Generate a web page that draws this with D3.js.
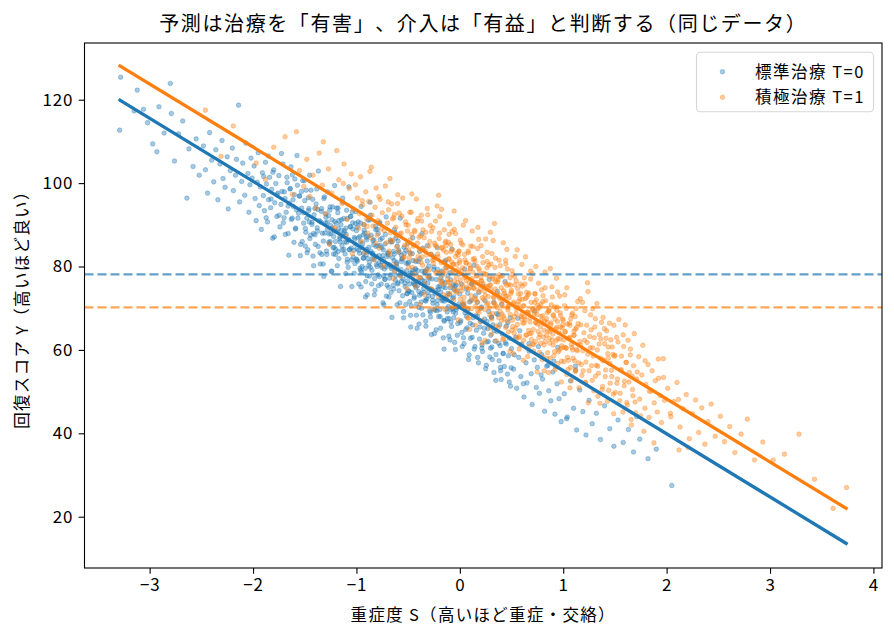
<!DOCTYPE html>
<html>
<head>
<meta charset="utf-8">
<script src="https://cdn.jsdelivr.net/npm/d3@7"></script>
<style>
  body { margin: 0; background: #fff; }
  svg { display: block; }
  text { font-family: "Noto Sans CJK JP", "Noto Sans", sans-serif; fill: #000; text-spacing-trim: space-all; }
</style>
</head>
<body>
<svg id="chart" width="894" height="637"></svg>
<script>
const titleText = "予測は治療を「有害」、介入は「有益」と判断する（同じデータ）";
const xLabel = "重症度 S（高いほど重症・交絡）";
const yLabel = "回復スコア Y（高いほど良い）";
const seriesNames = ["標準治療 T=0", "積極治療 T=1"];
const xTicks = [-3, -2, -1, 0, 1, 2, 3, 4];
const yTicks = [20, 40, 60, 80, 100, 120];

// fitted lines (S endpoints, Y endpoints) and group means
const fitS = [-3.3, 3.75];
const fitT0 = [120.1, 13.4];
const fitT1 = [128.3, 21.8];
const meanT0 = 78.1;
const meanT1 = 70.2;

// [S, Y]
const pointsT0 = [
[-3.28,125.4],[-3.29,112.7],[-3.12,122.3],[-3.06,117.7],[-3.15,117.3],[-2.91,118.3],[-2.80,123.9],[-2.79,116.7],[-2.97,109.4],[-2.64,96.4],
[-3.02,114.5],[-2.86,112.0],[-2.72,111.8],[-2.68,114.9],[-2.58,104.0],[-2.93,107.5],[-2.55,110.6],[-2.62,108.2],[-2.76,105.3],[-2.52,101.9],
[-2.48,108.9],[-2.46,103.2],[-2.44,97.6],[-2.42,112.1],[-2.40,105.5],[-2.38,100.3],[-2.36,108.0],[-2.34,96.0],[-2.32,104.6],[-2.30,110.2],
[-2.29,101.1],[-2.27,99.0],[-2.25,106.3],[-2.24,93.8],[-2.22,103.0],[-2.20,108.4],[-2.19,98.2],[-2.17,101.9],[-2.16,105.7],[-2.14,118.7],
[-2.13,95.5],[-2.11,100.4],[-2.10,104.8],[-2.08,97.1],[-2.07,109.6],[-2.05,102.3],[-2.04,93.0],[-2.03,99.6],[-2.02,106.0],[-2.01,101.2],
[-1.99,104.1],[-1.98,96.3],[-1.97,91.0],[-1.96,100.2],[-1.95,107.3],[-1.94,94.6],[-1.93,99.1],[-1.92,88.9],[-1.91,102.5],[-1.90,97.0],
[-1.89,93.4],[-1.88,105.0],[-1.87,99.8],[-1.86,90.7],[-1.85,96.0],[-1.84,101.4],[-1.83,94.1],[-1.82,98.5],[-1.81,86.8],[-1.80,103.2],
[-1.79,95.3],[-1.78,99.9],[-1.77,92.0],[-1.76,97.6],[-1.75,101.8],[-1.74,89.5],[-1.73,94.9],[-1.72,98.0],[-1.71,104.6],[-1.70,91.7],
[-1.69,96.3],[-1.68,93.0],[-1.67,100.1],[-1.66,87.9],[-1.65,95.2],[-1.64,98.7],[-1.63,91.3],[-1.62,102.0],[-1.61,94.4],[-1.60,97.2],
[-1.59,89.0],[-1.58,93.6],[-1.57,99.5],[-1.56,92.8],[-1.55,96.9],[-1.54,85.3],[-1.53,94.0],[-1.52,100.6],[-1.51,90.4],
[-1.50,95.8],[-1.49,88.2],[-1.48,91.6],[-1.47,84.0],[-1.46,93.9],[-1.45,86.7],[-1.44,98.3],[-1.43,90.1],[-1.42,82.5],[-1.41,92.4],
[-1.40,87.6],[-1.39,95.0],[-1.38,89.3],[-1.37,84.8],[-1.36,91.0],[-1.35,80.6],[-1.34,93.2],[-1.33,88.0],[-1.32,86.1],[-1.31,96.7],
[-1.30,90.5],[-1.29,83.7],[-1.28,88.9],[-1.27,92.2],[-1.26,85.4],[-1.25,89.8],[-1.24,78.9],[-1.23,94.3],[-1.22,87.2],[-1.21,90.8],
[-1.20,84.1],[-1.19,88.4],[-1.18,92.9],[-1.17,81.9],[-1.16,86.6],[-1.15,90.0],[-1.14,85.0],[-1.13,95.4],[-1.12,88.1],[-1.11,83.0],
[-1.10,87.7],[-1.09,91.5],[-1.08,79.8],[-1.07,86.3],[-1.06,89.6],[-1.05,84.4],[-1.04,93.1],[-1.03,82.2],[-1.02,87.0],[-1.01,90.3],
[-1.495,84.9],[-1.455,90.7],[-1.415,87.9],[-1.375,93.7],[-1.335,82.9],[-1.295,91.8],[-1.255,86.0],[-1.215,84.6],[-1.175,89.1],[-1.135,87.3],
[-1.095,85.8],[-1.055,92.0],[-1.015,80.7],[-1.465,96.5],[-1.315,77.6],
[-1.00,88.6],[-0.99,81.3],[-0.98,86.9],[-0.97,83.2],[-0.96,90.4],[-0.95,78.7],[-0.94,85.5],[-0.93,82.0],[-0.92,88.0],[-0.91,76.4],
[-0.90,84.1],[-0.89,87.3],[-0.88,80.2],[-0.87,91.2],[-0.86,83.6],[-0.85,79.1],[-0.84,86.2],[-0.83,81.7],[-0.82,74.3],[-0.81,84.8],
[-0.80,88.9],[-0.79,78.0],[-0.78,82.6],[-0.77,86.4],[-0.76,75.8],[-0.75,81.1],[-0.74,84.0],[-0.73,79.4],[-0.72,87.7],[-0.71,72.9],
[-0.70,80.5],[-0.69,83.3],[-0.68,77.2],[-0.67,85.9],[-0.66,79.9],[-0.65,82.1],[-0.64,74.6],[-0.63,78.8],[-0.62,86.8],[-0.61,80.0],
[-0.60,76.1],[-0.59,83.9],[-0.58,71.3],[-0.57,79.3],[-0.56,81.8],[-0.55,77.0],[-0.54,84.6],[-0.53,75.2],[-0.52,80.8],[-0.51,73.5],
[-0.995,84.3],[-0.965,79.6],[-0.935,87.6],[-0.905,82.8],[-0.875,77.7],[-0.845,83.0],[-0.815,89.7],[-0.785,80.9],[-0.755,84.5],[-0.725,76.9],
[-0.695,82.4],[-0.665,73.8],[-0.635,81.4],[-0.605,84.9],[-0.575,78.3],[-0.545,69.2],[-0.515,79.0],[-0.955,75.1],[-0.865,92.3],[-0.735,70.8],
[-0.625,88.1],[-0.565,82.7],[-0.505,76.6],[-0.895,73.2],[-0.775,90.6],
[-0.50,80.7],[-0.49,74.0],[-0.48,77.9],[-0.47,70.6],[-0.46,83.1],[-0.45,76.2],[-0.44,72.8],[-0.43,79.5],[-0.42,68.3],[-0.41,75.4],
[-0.40,81.2],[-0.39,73.1],[-0.38,77.3],[-0.37,70.0],[-0.36,84.4],[-0.35,74.7],[-0.34,78.6],[-0.33,66.9],[-0.32,72.2],[-0.31,76.0],
[-0.30,80.1],[-0.29,69.4],[-0.28,74.4],[-0.27,77.0],[-0.26,71.2],[-0.25,82.3],[-0.24,73.6],[-0.23,64.8],[-0.22,70.9],[-0.21,75.1],
[-0.20,78.3],[-0.19,68.0],[-0.18,72.5],[-0.17,76.4],[-0.16,62.9],[-0.15,71.7],[-0.14,74.9],[-0.13,79.8],[-0.12,67.5],[-0.11,70.4],
[-0.10,73.3],[-0.09,76.8],[-0.08,65.6],[-0.07,69.9],[-0.06,72.7],[-0.05,61.8],[-0.04,68.8],[-0.03,74.2],[-0.02,66.3],[-0.01,71.0],
[-0.485,71.6],[-0.455,79.1],[-0.425,74.9],[-0.395,66.2],[-0.365,76.7],[-0.335,71.9],[-0.305,74.8],[-0.275,63.7],[-0.245,69.8],[-0.215,79.3],
[-0.185,73.9],[-0.155,67.1],[-0.125,72.0],[-0.095,62.4],[-0.065,75.6],[-0.035,70.2],[-0.475,65.5],[-0.315,85.0],[-0.145,81.0],
[0.00,73.4],[0.01,67.0],[0.02,64.2],[0.03,70.8],[0.04,61.5],[0.05,68.9],[0.06,74.6],[0.07,65.3],[0.08,69.7],[0.09,58.8],
[0.10,66.4],[0.11,71.9],[0.12,63.0],[0.13,67.7],[0.14,60.2],[0.15,73.0],[0.16,64.7],[0.17,68.1],[0.18,56.9],[0.19,62.6],
[0.20,66.8],[0.21,70.3],[0.22,59.6],[0.23,64.0],[0.24,67.4],[0.25,55.5],[0.26,61.9],[0.27,65.1],[0.28,69.2],[0.29,58.3],
[0.30,63.5],[0.31,60.7],[0.32,66.0],[0.33,54.6],[0.34,62.1],[0.35,58.9],[0.36,64.4],[0.37,68.5],[0.38,57.4],[0.39,61.0],
[0.40,52.9],[0.41,63.8],[0.42,59.2],[0.43,56.0],[0.44,61.7],[0.45,65.7],[0.46,54.2],[0.47,58.6],[0.48,62.8],[0.49,51.3],
[0.035,62.9],[0.115,75.8],[0.215,61.2],[0.305,67.9],[0.395,55.0],
[0.50,60.3],[0.52,55.4],[0.54,63.1],[0.55,50.8],[0.57,58.2],[0.59,53.6],[0.60,61.4],[0.62,48.7],[0.64,56.9],[0.65,52.1],
[0.67,59.7],[0.69,54.3],[0.70,46.9],[0.72,57.6],[0.74,51.0],[0.75,55.8],[0.77,49.6],[0.79,58.9],[0.80,53.0],[0.82,45.3],
[0.84,56.1],[0.86,50.2],[0.88,47.8],[0.90,54.7],[0.92,44.6],[0.94,51.9],[0.96,48.3],[0.98,42.8],[0.58,64.6],[0.76,60.8],[0.91,57.3],
[1.01,49.5],[1.04,43.9],[1.07,52.6],[1.10,46.0],[1.13,40.8],[1.16,50.4],[1.19,45.2],[1.22,39.6],[1.25,47.9],[1.28,42.3],
[1.32,44.8],[1.36,38.5],[1.40,46.6],[1.45,41.1],[1.49,36.9],[1.12,55.1],
[1.53,43.2],[1.58,37.8],[1.63,40.9],[1.68,35.5],[1.74,38.6],[1.82,33.9],[1.90,36.2],[2.05,27.5],[1.71,44.0],
[-1.897,101.6],[-1.873,91.7],[-1.851,106.5],[-1.826,96.2],[-1.808,102.6],[-1.794,87.1],[-1.769,97.2],[-1.748,92.3],[-1.725,107.1],[-1.707,90.5],
[-1.697,97.9],[-1.688,87.7],[-1.673,101.4],[-1.661,94.5],[-1.654,82.7],[-1.642,98.6],[-1.633,103.9],[-1.621,91.6],[-1.613,96.0],[-1.604,85.8],
[-1.596,101.0],[-1.587,89.2],[-1.575,106.6],[-1.566,91.6],[-1.552,96.9],[-1.543,82.6],[-1.531,98.0],[-1.524,86.0],[-1.512,92.9],[-1.503,100.6],
[-1.494,89.1],[-1.486,98.3],[-1.477,83.3],[-1.463,93.4],[-1.452,101.9],[-1.444,87.5],[-1.431,90.6],[-1.423,96.1],[-1.414,80.2],[-1.402,93.9],
[-1.397,85.3],[-1.384,98.6],[-1.376,88.5],[-1.368,102.9],[-1.353,83.3],[-1.345,90.7],[-1.336,93.9],[-1.322,80.6],[-1.314,96.3],[-1.306,88.0],
[-1.298,92.6],[-1.287,82.9],[-1.279,97.9],[-1.264,87.8],[-1.256,94.3],[-1.241,78.8],[-1.233,89.2],[-1.225,84.5],[-1.211,99.4],[-1.203,82.9],
[-1.196,90.3],[-1.185,80.2],[-1.177,94.0],[-1.162,87.0],[-1.154,75.2],[-1.146,91.2],[-1.133,96.4],[-1.121,84.1],[-1.117,88.6],[-1.104,78.3],
[-1.095,93.5],[-1.088,81.7],[-1.073,99.1],[-1.066,84.1],[-1.057,89.5],[-1.044,75.2],[-1.036,90.5],[-1.022,78.4],[-1.013,85.4],[-1.005,93.2],
[-0.996,81.6],[-0.983,90.7],[-0.977,75.8],[-0.962,85.9],[-0.954,94.4],[-0.946,80.0],[-0.931,83.1],[-0.925,88.7],[-0.913,72.7],[-0.902,86.4],
[-0.897,77.8],[-0.886,91.1],[-0.874,81.0],[-0.868,95.4],[-0.853,75.8],[-0.845,83.2],[-0.832,86.4],[-0.827,73.2],[-0.814,88.8],[-0.806,80.5],
[-0.793,85.0],[-0.787,75.4],[-0.776,90.3],[-0.764,80.3],[-0.752,86.8],[-0.743,71.3],[-0.738,81.8],[-0.726,77.0],[-0.713,91.9],[-0.704,75.5],
[-0.694,82.8],[-0.686,72.7],[-0.673,86.4],[-0.662,79.5],[-0.657,67.8],[-0.641,83.6],[-0.633,88.9],[-0.624,76.7],[-0.612,81.0],[-0.607,70.8],
[-0.597,86.1],[-0.588,74.2],[-0.576,91.6],[-0.563,76.5],[-0.556,81.9],[-0.544,67.7],[-0.537,83.1],[-0.522,70.9],[-0.516,77.9],[-0.503,85.6],
[-0.498,74.2],[-0.484,83.3],[-0.477,68.3],[-0.463,78.4],[-0.455,86.9],[-0.442,72.4],[-0.436,75.6],[-0.424,81.2],[-0.413,65.2],[-0.407,79.0],
[-0.395,70.2],[-0.388,83.6],[-0.374,73.5],[-0.366,87.9],[-0.357,68.4],[-0.343,75.6],[-0.335,78.9],[-0.328,65.7],[-0.314,81.3],[-0.302,72.9],
[-0.296,77.5],[-0.284,67.9],[-0.277,82.9],[-0.265,72.8],[-0.252,79.3],[-0.246,63.9],[-0.233,74.2],[-0.221,69.4],[-0.218,84.5],[-0.204,68.0],
[-0.193,75.3],[-0.187,65.2],[-0.174,78.9],[-0.166,72.1],[-0.152,60.2],[-0.143,76.1],[-0.137,81.5],[-0.122,69.1],[-0.115,73.5],[-0.106,63.3],
[-0.094,78.5],[-0.086,66.7],[-0.078,84.2],[-0.064,69.1],[-0.057,74.5],[-0.043,60.1],[-0.036,75.5],[-0.024,63.5],[-0.013,70.4],[-0.006,78.2],
[0.004,66.6],[0.016,75.8],[0.023,60.8],[0.037,70.9],[0.046,79.4],[0.058,64.9],[0.064,68.1],[0.077,73.6],[0.085,57.7],[0.093,71.5],
[0.103,62.8],[0.117,76.0],[0.124,66.0],[0.138,80.3],[0.146,60.8],[0.153,68.2],[0.167,71.4],[0.172,58.2],[0.186,73.8],[0.194,65.5],
[0.207,70.0],[0.213,60.4],[0.226,75.3],[0.238,65.2],[0.244,71.8],[0.257,56.3],[0.263,66.8],[0.276,62.0],[0.284,76.9],[0.297,60.4],
[0.306,67.8],[0.314,57.7],[0.327,71.4],[0.333,64.6],[0.348,52.7],[0.356,68.7],[0.362,74.0],[0.377,61.6],[0.385,66.0],[0.393,55.8],
[0.404,71.0],[0.418,59.1],[0.437,76.4],[0.449,61.4],[0.466,66.6],[0.478,52.3],[0.487,67.7],[0.496,55.7],
[0.527,58.8],[0.561,67.6],[0.614,51.9],[0.668,61.5],[0.723,69.3],[0.786,54.0],[0.853,56.3],[0.947,60.6],[1.032,43.5],[1.118,56.1],
[-1.281,90.6],[-1.268,85.8],[-1.259,93.5],[-1.247,87.9],[-1.236,91.2],[-1.222,83.0],[-1.214,88.5],[-1.203,86.0],[-1.191,94.0],[-1.178,83.6],
[-1.169,91.0],[-1.158,85.9],[-1.146,88.6],[-1.137,83.9],[-1.124,91.5],[-1.112,85.9],[-1.103,89.2],[-1.089,81.0],[-1.081,86.5],[-1.069,84.0],
[-1.058,92.0],[-1.047,81.6],[-1.034,89.0],[-1.026,83.9],[-1.015,86.6],[-1.002,81.8],[-0.991,89.5],[-0.979,83.9],[-0.968,87.2],[-0.959,79.1],
[-0.946,84.5],[-0.934,82.0],[-0.925,90.0],[-0.913,79.6],[-0.902,87.0],[-0.891,81.9],[-0.879,84.6],[-0.866,79.8],[-0.857,87.5],[-0.846,81.9],
[-0.833,85.2],[-0.824,77.1],[-0.812,82.5],[-0.801,80.0],[-0.789,87.9],[-0.778,77.6],[-0.768,85.0],[-0.755,79.8],[-0.744,82.6],[-0.736,77.8],
[-0.722,85.4],[-0.711,79.9],[-0.701,83.2],[-0.689,75.0],[-0.676,80.4],[-0.668,78.0],[-0.655,85.9],[-0.643,75.5],[-0.634,83.0],[-0.621,77.8],
[-0.612,80.6],[-0.599,75.8],[-0.588,83.4],[-0.577,77.9],[-0.566,81.2],[-0.553,73.0],[-0.544,78.5],[-0.532,76.0],[-0.521,83.9],[-0.509,73.5],
[-0.498,81.0],[-0.486,75.8],[-0.476,78.5],[-0.465,73.8],[-0.452,81.4],[-0.443,75.8],[-0.431,79.2],[-0.419,71.0],[-0.408,76.4],[-0.397,74.0],
[-0.386,81.9],[-0.374,71.5],[-0.363,78.9],[-0.351,73.8],[-0.342,76.5],[-0.329,71.7],[-0.318,79.4],[-0.307,73.8],[-0.296,77.1],[-0.285,69.0],
[-0.273,74.4],[-0.262,71.9],[-0.251,79.9],[-0.239,69.5],[-0.228,76.9],[-0.217,71.8],[-0.206,74.5],[-0.194,69.7],[-0.183,77.3],[-0.171,71.8],
[-0.161,75.1],[-0.149,66.9],[-0.138,72.4],[-0.126,69.9],[-0.115,77.8],[-0.104,67.5],[-0.092,74.9],[-0.081,69.7],[-0.069,72.4],[-0.058,67.7],
[-0.047,75.3],[-0.035,69.7]
];

const pointsT1 = [
[-2.46,117.5],[-2.19,113.7],[-2.31,106.4],
[-1.97,104.8],[-1.88,100.9],[-1.80,108.6],[-1.69,111.1],[-1.62,97.3],[-1.58,112.3],[-1.55,103.0],[-1.51,99.2],
[-1.48,105.7],[-1.45,96.8],[-1.42,101.9],[-1.39,94.0],[-1.36,107.2],[-1.33,99.5],[-1.32,109.9],[-1.30,92.7],[-1.27,103.4],[-1.24,97.6],
[-1.22,88.9],[-1.19,107.8],[-1.17,100.8],[-1.14,95.1],[-1.12,104.6],[-1.09,91.3],[-1.07,98.7],[-1.05,102.2],[-1.03,93.8],[-1.01,99.6],
[-1.26,85.4],[-1.10,87.2],
[-0.99,96.4],[-0.98,89.2],[-0.97,92.7],[-0.96,101.5],[-0.95,86.0],[-0.94,94.8],[-0.93,90.1],[-0.92,83.3],[-0.91,97.9],[-0.90,91.4],
[-0.89,88.0],[-0.88,95.6],[-0.87,102.8],[-0.86,86.9],[-0.85,92.3],[-0.84,89.7],[-0.83,81.6],[-0.82,94.2],[-0.81,98.8],[-0.80,87.5],
[-0.79,91.0],[-0.78,84.4],[-0.77,96.1],[-0.76,89.0],[-0.75,92.9],[-0.74,80.2],[-0.73,88.6],[-0.72,99.3],[-0.71,85.7],[-0.70,90.4],
[-0.69,93.6],[-0.68,83.0],[-0.67,88.1],[-0.66,95.0],[-0.65,86.3],[-0.64,91.7],[-0.63,78.9],[-0.62,89.4],[-0.61,84.7],[-0.60,97.2],
[-0.58,87.8],[-0.56,92.1],[-0.54,82.4],[-0.52,90.0],[-0.51,85.2],
[-0.50,89.9],[-0.49,82.1],[-0.48,86.4],[-0.47,93.0],[-0.46,79.8],[-0.45,84.9],[-0.44,88.7],[-0.43,81.5],[-0.42,96.2],[-0.41,85.6],
[-0.40,77.3],[-0.39,83.8],[-0.38,87.4],[-0.37,90.9],[-0.36,80.3],[-0.35,84.2],[-0.34,75.9],[-0.33,88.2],[-0.32,82.8],[-0.31,92.4],
[-0.30,79.1],[-0.29,86.0],[-0.28,83.0],[-0.27,74.6],[-0.26,89.3],[-0.25,81.7],[-0.24,85.1],[-0.23,78.4],[-0.22,94.5],[-0.21,82.3],
[-0.20,86.7],[-0.19,76.8],[-0.18,80.9],[-0.17,84.6],[-0.16,73.2],[-0.15,88.8],[-0.14,79.7],[-0.13,83.4],[-0.12,77.0],[-0.11,85.8],
[-0.10,90.2],[-0.09,75.3],[-0.08,81.1],[-0.07,84.0],[-0.06,71.9],[-0.05,78.6],[-0.04,87.9],[-0.03,80.5],[-0.02,76.2],[-0.01,83.6],
[-0.495,84.0],[-0.465,87.7],[-0.435,78.2],[-0.405,91.5],[-0.375,81.0],[-0.345,86.9],[-0.315,77.8],[-0.285,89.8],[-0.255,80.7],[-0.225,84.8],
[-0.195,92.0],[-0.165,78.0],[-0.135,86.1],[-0.105,81.9],[-0.075,88.4],[-0.045,74.1],[-0.015,82.7],[-0.385,70.9],[-0.205,97.1],[-0.055,93.3],
[0.00,81.4],[0.01,74.8],[0.02,78.9],[0.03,85.2],[0.04,72.6],[0.05,77.4],[0.06,80.8],[0.07,69.9],[0.08,83.7],[0.09,76.1],
[0.10,79.6],[0.11,73.0],[0.12,88.5],[0.13,75.7],[0.14,81.9],[0.15,70.4],[0.16,77.9],[0.17,84.3],[0.18,74.0],[0.19,79.0],
[0.20,66.8],[0.21,76.5],[0.22,82.4],[0.23,72.1],[0.24,78.2],[0.25,86.6],[0.26,70.9],[0.27,75.2],[0.28,80.3],[0.29,68.4],
[0.30,74.5],[0.31,83.1],[0.32,77.0],[0.33,71.3],[0.34,79.8],[0.35,65.7],[0.36,73.6],[0.37,76.8],[0.38,81.5],[0.39,69.2],
[0.40,74.9],[0.41,71.8],[0.42,85.7],[0.43,67.5],[0.44,76.0],[0.45,72.9],[0.46,79.4],[0.47,64.3],[0.48,70.7],[0.49,75.5],
[0.005,86.3],[0.025,71.1],[0.045,82.9],[0.065,75.0],[0.085,67.6],[0.105,84.9],[0.125,78.6],[0.145,72.4],[0.165,80.1],[0.185,69.0],
[0.205,85.0],[0.225,75.9],[0.245,73.1],[0.265,81.2],[0.285,77.6],[0.305,63.8],[0.325,72.7],[0.345,82.0],[0.365,70.1],[0.385,78.0],
[0.405,67.0],[0.425,74.2],[0.445,80.6],[0.465,69.6],[0.485,77.3],[0.055,91.0],[0.175,89.4],[0.295,88.2],[0.415,62.5],[0.335,90.3],
[0.095,64.9],[0.215,61.6],[0.455,84.1],
[0.50,73.9],[0.51,67.1],[0.52,71.5],[0.53,77.6],[0.54,65.2],[0.55,69.8],[0.56,74.7],[0.57,62.9],[0.58,72.3],[0.59,68.0],
[0.60,80.5],[0.61,66.4],[0.62,70.6],[0.63,75.8],[0.64,63.5],[0.65,69.1],[0.66,73.2],[0.67,60.8],[0.68,67.7],[0.69,71.4],
[0.70,78.3],[0.71,64.9],[0.72,68.6],[0.73,62.0],[0.74,72.0],[0.75,66.2],[0.76,70.0],[0.77,59.4],[0.78,65.6],[0.79,74.4],
[0.80,68.2],[0.81,63.1],[0.82,67.0],[0.83,71.8],[0.84,57.9],[0.85,64.5],[0.86,69.3],[0.87,61.6],[0.88,66.0],[0.89,75.1],
[0.90,63.8],[0.91,58.6],[0.92,67.4],[0.93,62.2],[0.94,70.3],[0.95,56.7],[0.96,64.1],[0.97,68.9],[0.98,60.4],[0.99,65.3],
[0.505,79.0],[0.525,64.0],[0.545,76.6],[0.565,70.9],[0.585,61.2],[0.605,75.3],[0.625,67.9],[0.645,72.6],[0.665,64.7],[0.685,77.0],
[0.705,61.4],[0.725,73.5],[0.745,69.5],[0.765,63.0],[0.785,71.0],[0.805,58.3],[0.825,74.9],[0.845,66.6],[0.865,62.8],[0.885,70.8],
[0.905,68.4],[0.925,55.9],[0.945,66.8],[0.965,72.9],[0.985,61.0],[0.555,84.0],[0.635,82.3],[0.735,80.0],[0.815,55.0],[0.935,77.2],
[0.515,59.1],[0.615,57.5],[0.875,79.5],
[1.00,67.1],[1.01,60.6],[1.02,64.3],[1.03,70.0],[1.04,58.2],[1.05,62.7],[1.06,66.4],[1.07,55.8],[1.08,61.3],[1.09,68.8],
[1.10,63.5],[1.11,57.4],[1.12,65.0],[1.13,60.1],[1.14,71.6],[1.15,56.9],[1.16,62.0],[1.17,66.0],[1.18,53.9],[1.19,59.8],
[1.20,64.1],[1.21,69.4],[1.22,57.1],[1.23,61.8],[1.24,74.0],[1.25,55.0],[1.26,60.5],[1.27,64.8],[1.28,52.7],[1.29,58.5],
[1.30,62.9],[1.31,67.5],[1.32,56.3],[1.33,60.0],[1.34,54.4],[1.35,63.7],[1.36,58.0],[1.37,66.6],[1.38,51.2],[1.39,57.6],
[1.40,61.5],[1.41,55.2],[1.42,64.6],[1.43,59.1],[1.44,50.3],[1.45,56.8],[1.46,62.4],[1.47,53.6],[1.48,58.9],[1.49,65.9],
[1.015,73.2],[1.065,50.9],[1.115,68.0],[1.165,72.3],[1.215,52.2],[1.285,69.9],[1.335,48.9],[1.385,67.8],[1.435,60.7],[1.485,49.4],
[1.035,54.1],[1.235,76.1],
[1.50,58.7],[1.52,52.0],[1.53,61.9],[1.55,49.6],[1.56,55.3],[1.58,63.6],[1.59,51.4],[1.61,57.0],[1.62,46.8],[1.64,54.6],
[1.65,60.2],[1.67,50.5],[1.68,56.2],[1.70,44.9],[1.71,53.0],[1.73,58.4],[1.74,48.2],[1.76,54.0],[1.77,61.1],[1.79,46.0],
[1.80,51.7],[1.82,56.5],[1.83,43.8],[1.85,50.1],[1.86,55.0],[1.88,47.3],[1.89,52.6],[1.91,45.1],[1.92,57.8],[1.94,49.0],
[1.95,42.6],[1.97,53.4],[1.98,47.9],[1.60,66.0],[1.78,40.5],[1.66,42.0],
[2.01,50.8],[2.04,44.0],[2.07,47.6],[2.10,52.2],[2.13,41.5],[2.16,45.9],[2.19,49.3],[2.22,38.7],[2.25,44.7],[2.28,48.0],
[2.31,40.2],[2.34,46.1],[2.37,37.4],[2.40,42.8],[2.43,47.0],[2.47,39.3],[2.12,36.0],
[2.52,44.1],[2.56,38.0],[2.61,41.6],[2.66,35.4],[2.72,39.8],[2.78,43.4],[2.85,33.6],[2.93,37.9],
[3.03,33.6],[3.14,35.0],[3.28,39.8],[3.43,29.0],[3.61,22.0],[3.74,27.0],
[-0.693,95.5],[-0.684,83.7],[-0.676,101.1],[-0.668,86.1],[-0.651,91.4],[-0.643,77.1],[-0.632,92.5],[-0.627,80.5],[-0.614,87.4],[-0.602,95.1],
[-0.594,83.6],[-0.586,92.8],[-0.573,77.7],[-0.567,88.0],[-0.552,96.4],[-0.545,82.0],[-0.533,85.1],[-0.526,90.7],[-0.514,74.7],[-0.505,88.5],
[-0.497,79.8],[-0.483,93.0],[-0.476,83.0],[-0.464,97.4],[-0.453,77.8],[-0.447,85.2],[-0.434,88.4],[-0.426,75.2],[-0.412,90.8],[-0.403,82.4],
[-0.394,87.0],[-0.387,77.4],[-0.372,92.3],[-0.364,82.3],[-0.356,88.8],[-0.341,73.3],[-0.333,83.7],[-0.327,79.0],[-0.315,93.9],[-0.303,77.4],
[-0.298,84.9],[-0.286,74.7],[-0.274,88.4],[-0.263,81.5],[-0.258,69.8],[-0.242,85.6],[-0.235,90.9],[-0.223,78.6],[-0.214,83.0],[-0.207,72.8],
[-0.196,88.0],[-0.184,76.2],[-0.177,93.7],[-0.163,78.5],[-0.156,83.9],[-0.144,69.7],[-0.132,85.0],[-0.125,73.0],[-0.113,79.9],[-0.104,87.7],
[-0.097,76.2],[-0.088,85.3],[-0.074,70.2],[-0.066,80.5],[-0.053,88.9],[-0.047,74.5],[-0.034,77.6],[-0.026,83.2],[-0.015,67.2],[-0.003,80.9],
[0.006,72.2],[0.014,85.6],[0.027,75.5],[0.033,89.9],[0.048,70.3],[0.055,77.7],[0.063,81.0],[0.076,67.7],[0.084,83.3],[0.097,74.9],
[0.105,79.5],[0.112,69.9],[0.126,84.8],[0.134,74.8],[0.147,81.3],[0.153,65.9],[0.166,76.2],[0.174,71.5],[0.183,86.5],[0.196,70.0],
[0.203,77.4],[0.217,67.1],[0.224,80.9],[0.236,74.1],[0.243,62.3],[0.257,78.1],[0.264,83.4],[0.272,71.2],[0.288,75.5],[0.294,65.3],
[0.302,80.6],[0.316,68.7],[0.323,86.2],[0.337,71.0],[0.345,76.4],[0.353,62.2],[0.368,77.5],[0.374,65.5],[0.386,72.4],[0.392,80.2],
[0.407,68.6],[0.413,77.8],[0.426,62.7],[0.438,72.9],[0.443,81.5],[0.457,66.9],[0.465,70.1],[0.474,75.7],[0.486,59.7],[0.492,73.5],
[0.504,64.7],[0.513,78.1],[0.527,68.0],[0.536,82.4],[0.548,62.8],[0.553,70.2],[0.567,73.4],[0.574,60.2],[0.586,75.8],[0.598,67.4],
[0.603,72.1],[0.617,62.3],[0.624,77.3],[0.632,67.3],[0.646,73.8],[0.655,58.4],[0.663,68.8],[0.677,63.9],[0.684,78.9],[0.693,62.5],
[0.706,69.8],[0.712,59.7],[0.727,73.4],[0.733,66.6],[0.748,54.7],[0.754,70.7],[0.762,76.0],[0.776,63.7],[0.785,68.0],[0.797,57.7],
[0.805,73.0],[0.814,61.2],[0.823,78.7],[0.838,63.5],[0.844,68.9],[0.857,54.6],[0.866,70.0],[0.873,58.0],[0.887,64.9],[0.895,72.7],
[0.903,61.2],[0.916,70.3],[0.922,55.3],[0.937,65.4],[0.945,73.9],[0.953,59.5],[0.968,62.6],[0.974,68.2],[0.982,52.3],[0.996,66.0],
[1.007,57.2],[1.013,70.6],[1.028,60.5],[1.034,74.9],[1.047,55.3],[1.056,62.7],[1.064,65.9],[1.078,52.6],[1.083,68.4],[1.092,60.0],
[1.104,64.5],[1.117,54.8],[1.123,69.9],[1.136,59.8],[1.144,66.3],[1.152,50.9],[1.167,61.2],[1.175,56.5],[1.186,71.4],[1.193,55.0],
[1.206,62.3],[1.214,52.2],[1.227,65.9],[1.238,59.0],[1.243,47.3],[1.256,63.2],[1.265,68.4],[1.273,56.2],[1.284,60.5],[1.297,50.2],
[1.305,65.5],[1.312,53.7],[1.326,71.1],[1.334,56.1],[1.347,61.4],[1.355,47.2],[1.363,62.6],[1.376,50.5],[1.384,57.4],[1.398,65.1],
[1.406,53.6],[1.413,62.8],[1.427,47.7],[1.435,58.0],[1.448,66.4],[1.454,52.0],[1.466,55.1],[1.473,60.7],[1.488,44.7],[1.495,58.5],
[1.503,49.8],[1.517,63.0],[1.524,53.0],[1.538,67.3],[1.546,47.8],[1.557,55.1],[1.563,58.5],[1.578,45.1],[1.584,60.8],[1.592,52.5],
[1.608,57.0],[1.615,47.4],[1.627,62.3],[1.636,52.3],[1.649,58.8],[1.657,43.3],[1.668,53.7],[1.674,49.0],[1.687,63.9],[1.695,47.5],
[1.716,54.7],[1.748,44.2],[1.792,57.4],[1.834,50.1],[1.877,37.7],[1.923,53.2],[1.968,57.9],[2.036,44.8],[2.115,48.1],[2.207,36.6],
[-0.783,96.8],[-0.812,85.6],[-0.856,103.8],[-0.897,89.6],[-0.944,95.8],[-1.038,83.1],[-1.127,99.9],[-1.213,89.3],
[-0.187,78.6],[-0.176,84.4],[-0.164,75.8],[-0.153,81.2],[-0.141,85.7],[-0.132,78.9],[-0.119,76.2],[-0.108,81.7],[-0.097,73.5],[-0.085,83.6],
[-0.074,78.6],[-0.063,80.6],[-0.052,76.6],[-0.041,82.4],[-0.029,73.7],[-0.018,79.2],[-0.007,83.7],[0.005,76.8],[0.016,74.2],[0.027,79.7],
[0.038,71.4],[0.049,81.6],[0.061,76.6],[0.072,78.6],[0.083,74.6],[0.094,80.4],[0.106,71.7],[0.117,77.1],[0.128,81.7],[0.139,74.8],
[0.151,72.1],[0.162,77.7],[0.173,69.4],[0.184,79.5],[0.196,74.6],[0.207,76.6],[0.218,72.5],[0.229,78.4],[0.241,69.7],[0.252,75.1],
[0.263,79.7],[0.274,72.8],[0.286,70.1],[0.297,75.6],[0.308,67.4],[0.319,77.5],[0.331,72.5],[0.342,74.6],[0.353,70.5],[0.364,76.3],
[0.376,67.7],[0.387,73.1],[0.398,77.6],[0.409,70.8],[0.421,68.1],[0.432,73.6],[0.443,65.4],[0.454,75.5],[0.466,70.5],[0.477,72.5],
[0.488,68.5],[0.499,74.3],[0.511,65.6],[0.522,71.1],[0.533,75.6],[0.544,68.7],[0.556,66.1],[0.567,71.6],[0.578,63.3],[0.589,73.5],
[0.601,68.5],[0.612,70.5],[0.623,66.5],[0.634,72.3],[0.646,63.6],[0.657,69.0],[0.668,73.6],[0.679,66.7],[0.691,64.0],[0.702,69.6],
[0.713,61.3],[0.724,71.4],[0.736,66.5],[0.747,68.5],[0.758,64.4],[0.769,70.3],[0.781,61.6],[0.792,67.0],[0.803,71.6],[0.814,64.7],
[0.826,62.0],[0.837,67.5],[0.848,59.3],[0.859,69.4],[0.871,64.4],[0.882,66.5],[0.893,62.4],[0.904,68.2],[0.916,59.6],[0.927,65.0],
[0.938,69.5],[0.949,62.7],[0.961,60.0],[0.972,65.5],[0.983,57.3],[0.994,67.4],[1.006,62.4],[1.017,64.4],[1.028,60.4],[1.039,66.2],
[1.051,57.5],[1.062,63.0],[1.073,67.5],[1.084,60.6],[1.096,58.0],[1.107,63.5],[1.118,55.2],[1.129,65.4]
];

const colors = ["#1f77b4", "#ff7f0e"];

const svg = d3.select("#chart");
const margin = { left: 84.5, right: 882, top: 43, bottom: 568 };

const x = d3.scaleLinear()
  .domain([-3.63, 4.083])
  .range([margin.left, margin.right]);

const y = d3.scaleLinear()
  .domain([7.7, 133.6])
  .range([margin.bottom, margin.top]);

svg.append("defs").append("clipPath").attr("id", "plotclip")
  .append("rect")
  .attr("x", margin.left).attr("y", margin.top)
  .attr("width", margin.right - margin.left)
  .attr("height", margin.bottom - margin.top);

const plot = svg.append("g").attr("clip-path", "url(#plotclip)");

function drawPoints(data, color) {
  plot.append("g")
    .selectAll("circle")
    .data(data)
    .enter()
    .append("circle")
      .attr("cx", d => x(d[0]))
      .attr("cy", d => y(d[1]))
      .attr("r", 2.3)
      .attr("fill", color)
      .attr("fill-opacity", 0.4)
      .attr("stroke", color)
      .attr("stroke-opacity", 0.4)
      .attr("stroke-width", 0.8);
}
drawPoints(pointsT0, colors[0]);
drawPoints(pointsT1, colors[1]);

// regression lines
const line = d3.line().x(d => x(d[0])).y(d => y(d[1]));
[fitT0, fitT1].forEach((fit, i) => {
  plot.append("path")
    .datum(fitS.map((s, k) => [s, fit[k]]))
    .attr("d", line)
    .attr("fill", "none")
    .attr("stroke", colors[i])
    .attr("stroke-width", 3.3);
});

// group means
[meanT0, meanT1].forEach((m, i) => {
  plot.append("line")
    .attr("x1", margin.left).attr("x2", margin.right)
    .attr("y1", y(m)).attr("y2", y(m))
    .attr("stroke", colors[i])
    .attr("stroke-opacity", 0.7)
    .attr("stroke-width", 2.2)
    .attr("stroke-dasharray", "9,4");
});

// axes
const xAxis = svg.append("g")
  .attr("transform", "translate(0," + margin.bottom + ")")
  .call(d3.axisBottom(x).tickValues(xTicks).tickSize(5.8).tickPadding(5.5).tickSizeOuter(0));
const yAxis = svg.append("g")
  .attr("transform", "translate(" + margin.left + ",0)")
  .call(d3.axisLeft(y).tickValues(yTicks).tickSize(5.8).tickPadding(5.5).tickSizeOuter(0));
[xAxis, yAxis].forEach(a => {
  a.select(".domain").remove();
  a.selectAll("line").attr("stroke", "#000").attr("stroke-width", 1.1);
  a.selectAll("text")
    .attr("font-size", "17px")
    .attr("letter-spacing", "0.8px")
    .attr("font-family", '"Noto Sans CJK JP", sans-serif');
});

// frame
svg.append("rect")
  .attr("x", margin.left).attr("y", margin.top)
  .attr("width", margin.right - margin.left)
  .attr("height", margin.bottom - margin.top)
  .attr("fill", "none")
  .attr("stroke", "#000")
  .attr("stroke-width", 1.1);

// labels
svg.append("text")
  .attr("x", (margin.left + margin.right) / 2)
  .attr("y", 31)
  .attr("text-anchor", "middle")
  .attr("font-size", "20px")
  .attr("letter-spacing", "1.6px")
  .text(titleText);

svg.append("text")
  .attr("x", (margin.left + margin.right) / 2)
  .attr("y", 621)
  .attr("text-anchor", "middle")
  .attr("font-size", "16.5px")
  .attr("letter-spacing", "1.3px")
  .text(xLabel);

svg.append("text")
  .attr("transform", "translate(28," + ((margin.top + margin.bottom) / 2) + ")rotate(-90)")
  .attr("text-anchor", "middle")
  .attr("font-size", "16.5px")
  .attr("letter-spacing", "1.3px")
  .text(yLabel);

// legend
const legend = svg.append("g");
legend.append("rect")
  .attr("x", 696.5).attr("y", 52.3)
  .attr("width", 177).attr("height", 59.5)
  .attr("rx", 4)
  .attr("fill", "#fff").attr("fill-opacity", 0.8)
  .attr("stroke", "#d6d6d6").attr("stroke-width", 1.1);
seriesNames.forEach((name, i) => {
  const cy = 71.7 + i * 25.6;
  legend.append("circle")
    .attr("cx", 722.5).attr("cy", cy).attr("r", 2.3)
    .attr("fill", colors[i]).attr("fill-opacity", 0.4)
    .attr("stroke", colors[i]).attr("stroke-opacity", 0.4).attr("stroke-width", 0.8);
  legend.append("text")
    .attr("x", 755).attr("y", cy)
    .attr("dy", "0.36em")
    .attr("font-size", "16.5px")
    .attr("letter-spacing", "1.5px")
    .text(name);
});
</script>
</body>
</html>
